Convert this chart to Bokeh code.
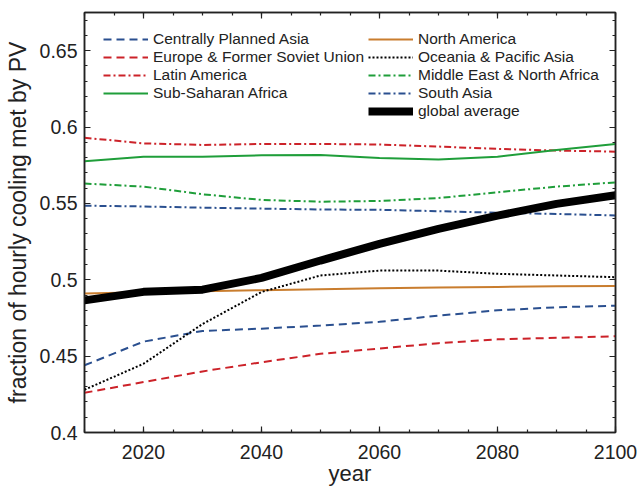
from bokeh.plotting import figure
from bokeh.models import (LinearAxis, FixedTicker, Legend, LegendItem,
                          CustomJSTickFormatter, Range1d, Label)
from bokeh.embed import file_html
from bokeh.resources import INLINE

# Share of hourly cooling demand met by PV, by region
years = [2010, 2020, 2030, 2040, 2050, 2060, 2070, 2080, 2090, 2100]

centrally_planned_asia = [0.444, 0.4595, 0.4665, 0.468, 0.470, 0.4725, 0.4765, 0.480, 0.482, 0.483]
europe_fsu = [0.426, 0.433, 0.440, 0.446, 0.4515, 0.455, 0.4585, 0.461, 0.462, 0.463]
latin_america = [0.593, 0.5893, 0.5883, 0.5889, 0.5889, 0.5886, 0.5872, 0.5857, 0.5846, 0.5839]
sub_saharan_africa = [0.5776, 0.5806, 0.5806, 0.5815, 0.5817, 0.5797, 0.5787, 0.5806, 0.585, 0.5889]
north_america = [0.491, 0.4918, 0.4925, 0.4932, 0.4938, 0.4944, 0.4949, 0.4953, 0.4957, 0.496]
oceania_pacific_asia = [0.428, 0.445, 0.471, 0.492, 0.5028, 0.506, 0.506, 0.5039, 0.5028, 0.5017]
mena = [0.563, 0.561, 0.556, 0.5523, 0.5511, 0.5516, 0.5535, 0.5573, 0.561, 0.5638]
south_asia = [0.5485, 0.548, 0.5472, 0.5466, 0.546, 0.5458, 0.5449, 0.5439, 0.5431, 0.5421]
global_average = [0.4865, 0.4921, 0.4935, 0.5012, 0.5126, 0.5235, 0.5333, 0.542, 0.5497, 0.5553]

x_ticks = [2020, 2040, 2060, 2080, 2100]
x_minor = list(range(2010, 2101, 5))
y_ticks = [0.4, 0.45, 0.5, 0.55, 0.6, 0.65]
y_minor = [round(0.40 + 0.01 * i, 2) for i in range(28)]

BLUE = "#2a4f8f"
RED = "#cc2229"
GREEN = "#1f9e3a"
ORANGE = "#c97d2e"
INK = "#222222"
FONT = "Liberation Sans"

W, H = 640, 487
LEFT, RIGHT, TOP, BOTTOM = 84, 25, 12, 55

p = figure(width=W, height=H, output_backend="svg", toolbar_location=None,
           x_range=Range1d(2010, 2100), y_range=Range1d(0.4, 0.675),
           min_border_left=LEFT, min_border_right=RIGHT, min_border_top=TOP,
           min_border_bottom=BOTTOM,
           y_axis_label="fraction of hourly cooling met by PV")
p.grid.visible = False
p.outline_line_color = INK
p.outline_line_width = 1.5
p.background_fill_color = "white"
p.border_fill_color = "white"

r_cpa = p.line(years, centrally_planned_asia, line_color=BLUE, line_width=2, line_dash="8 5")
r_eu = p.line(years, europe_fsu, line_color=RED, line_width=2, line_dash="8 5")
r_la = p.line(years, latin_america, line_color=RED, line_width=2, line_dash="7 3 2 3")
r_ssa = p.line(years, sub_saharan_africa, line_color=GREEN, line_width=2)
r_na = p.line(years, north_america, line_color=ORANGE, line_width=2)
r_oc = p.line(years, oceania_pacific_asia, line_color="black", line_width=2, line_dash="2 2")
r_me = p.line(years, mena, line_color=GREEN, line_width=2, line_dash="7 3 2 3")
r_sa = p.line(years, south_asia, line_color=BLUE, line_width=2, line_dash="7 3 2 3")
r_gl = p.line(years, global_average, line_color="black", line_width=8)

y_fmt = CustomJSTickFormatter(code="return tick.toFixed(2).replace(/0$/, '');")
blank_fmt = CustomJSTickFormatter(code="return '';")


def style_axis(ax, label_size):
    ax.axis_line_color = INK
    ax.axis_line_width = 1.5
    ax.major_tick_line_color = INK
    ax.minor_tick_line_color = INK
    ax.major_tick_line_width = 1.2
    ax.minor_tick_line_width = 1.2
    ax.major_tick_in = 6
    ax.major_tick_out = 0
    ax.minor_tick_in = 3
    ax.minor_tick_out = 0
    ax.major_label_text_font = FONT
    ax.major_label_text_color = INK
    ax.major_label_text_font_size = "19.5px"
    ax.axis_label_text_font = FONT
    ax.axis_label_text_color = INK
    ax.axis_label_text_font_size = label_size
    ax.axis_label_text_font_style = "normal"


xb = p.xaxis[0]
xb.ticker = FixedTicker(ticks=x_ticks, minor_ticks=x_minor)
xb.major_label_standoff = 12
style_axis(xb, "22px")

yl = p.yaxis[0]
yl.ticker = FixedTicker(ticks=y_ticks, minor_ticks=y_minor)
yl.formatter = y_fmt
yl.major_label_standoff = 7
yl.axis_label_standoff = 6
style_axis(yl, "23px")

# x axis title, kept in the bottom panel under the tick labels
p.add_layout(Label(x=(W - LEFT - RIGHT) / 2, y=13, x_units="screen", y_units="screen",
                   text="year", text_align="center", text_baseline="middle",
                   text_font=FONT, text_font_size="22px", text_color=INK), "below")

# mirrored tick marks on the top and right edges of the box
x_top = LinearAxis(ticker=FixedTicker(ticks=x_ticks, minor_ticks=x_minor),
                   formatter=blank_fmt)
style_axis(x_top, "22px")
p.add_layout(x_top, "above")
y_right = LinearAxis(ticker=FixedTicker(ticks=y_ticks, minor_ticks=y_minor),
                     formatter=blank_fmt)
style_axis(y_right, "22px")
p.add_layout(y_right, "right")


def make_legend(items, loc):
    lg = Legend(items=items, location=loc, orientation="vertical",
                padding=0, margin=0, spacing=0,
                glyph_width=45, glyph_height=18, label_height=18,
                label_standoff=5, label_text_font=FONT,
                label_text_font_size="15.5px", label_text_color=INK,
                background_fill_alpha=0, border_line_alpha=0)
    p.add_layout(lg, "center")


make_legend([
    LegendItem(label="Centrally Planned Asia", renderers=[r_cpa]),
    LegendItem(label="Europe & Former Soviet Union", renderers=[r_eu]),
    LegendItem(label="Latin America", renderers=[r_la]),
    LegendItem(label="Sub-Saharan Africa", renderers=[r_ssa]),
], (19, 330))

make_legend([
    LegendItem(label="North America", renderers=[r_na]),
    LegendItem(label="Oceania & Pacific Asia", renderers=[r_oc]),
    LegendItem(label="Middle East & North Africa", renderers=[r_me]),
    LegendItem(label="South Asia", renderers=[r_sa]),
    LegendItem(label="global average", renderers=[r_gl]),
], (284, 312))

open("out.html", "w").write(file_html(p, INLINE))
